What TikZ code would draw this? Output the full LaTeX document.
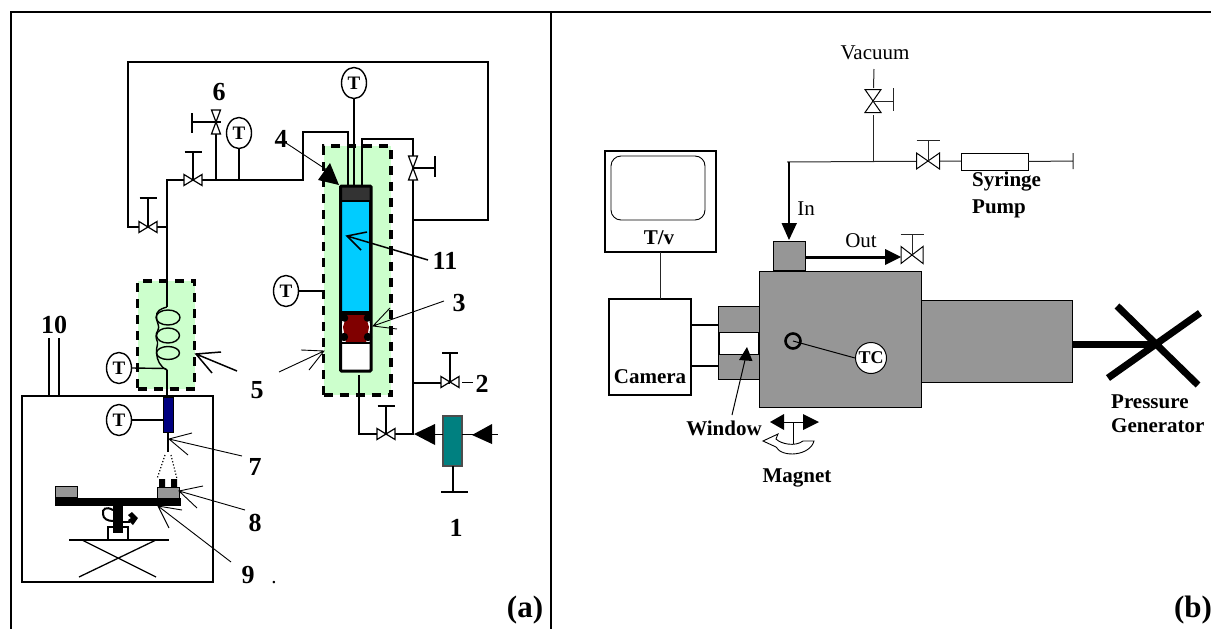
\documentclass[tikz,border=0pt]{standalone}
\usepackage{fontspec}
\setmainfont{Liberation Serif}
\usetikzlibrary{shapes.geometric}
\definecolor{greenbox}{HTML}{CCFFCC}
\definecolor{skyfill}{HTML}{00CCFF}
\definecolor{redfill}{HTML}{800000}
\definecolor{capfill}{HTML}{333333}
\definecolor{grayfill}{HTML}{969696}
\definecolor{tealfill}{HTML}{008080}
\definecolor{navyfill}{HTML}{000080}
\tikzset{
  pipe/.style={line width=1.4pt,black},
  thinpipe/.style={line width=1pt,black!85},
  valveshape/.style={fill=white,draw=black,line join=miter},
  leader/.style={line width=0.9pt,black},
  dashbox/.style={fill=greenbox,draw=black,line width=3.2pt,dash pattern=on 9pt off 7pt},
  num/.style={font=\fontsize{26}{26}\selectfont\bfseries,inner sep=0pt},
  blab/.style={font=\fontsize{21}{21}\selectfont\bfseries,inner sep=0pt},
  rlab/.style={font=\fontsize{21}{21}\selectfont,inner sep=0pt},
  panel/.style={font=\fontsize{31}{31}\selectfont\bfseries,inner sep=0pt},
  tgauge/.style={ellipse,draw=black,line width=1.4pt,fill=white,inner sep=0pt,minimum width=25pt,minimum height=31pt,font=\fontsize{19}{19}\selectfont\bfseries},
  graybox/.style={fill=grayfill,draw=black,line width=1pt},
}
% box node from corners
\newcommand{\boxn}[6]{\node[inner sep=0pt,outer sep=0pt,minimum width={(#4-#2)*1pt},minimum height={(#5-#3)*1pt},#6] (#1) at ({(#2+#4)/2},{(#3+#5)/2}) {};}
% horizontal valve: name x y hw hh stemend barhalf style
\newcommand{\bowH}[8]{\coordinate (#1) at (#2,#3);
  \draw[#8] ({#2},{#3}) -- ({#2},{#6}) ({#2-#7},{#6}) -- ({#2+#7},{#6});
  \path[#8,valveshape] ({#2-#4},{#3-#5}) -- ({#2+#4},{#3+#5}) -- ({#2+#4},{#3-#5}) -- ({#2-#4},{#3+#5}) -- cycle;
  \draw[#8] ({#2},{#3}) -- ({#2},{#3-#5});}
% vertical valve: name x y hw hh stemend barlo barhi style
\newcommand{\bowV}[9]{\coordinate (#1) at (#2,#3);
  \draw[#9] ({#2},{#3}) -- ({#6},{#3}) ({#6},{#7}) -- ({#6},{#8});
  \path[#9,valveshape] ({#2-#4},{#3-#5}) -- ({#2+#4},{#3-#5}) -- ({#2-#4},{#3+#5}) -- ({#2+#4},{#3+#5}) -- cycle;
  \draw[#9] ({#2},{#3}) -- ({#2+#4},{#3});}
% open-headed pointer: name start tip barb1 barb2 style
\newcommand{\pointer}[6]{\coordinate (#1s) at (#2); \coordinate (#1t) at (#3);
  \draw[#6] (#1s) -- (#1t) (#4) -- (#1t) -- (#5);}
\begin{document}
\begin{tikzpicture}[x=1pt,y=-1pt]
\useasboundingbox (0,0) rectangle (1211,629);
% frame
\coordinate (fa) at (11,629); \coordinate (fb) at (11,12); \coordinate (fc) at (1211,12);
\coordinate (fd) at (551,12); \coordinate (fe) at (551,629);
\draw[line width=1.7pt,line join=miter] (fa) -- (fb) -- (fc) (fd) -- (fe);
\node[panel] (pa) at (525,610) {(a)};
\node[panel] (pb) at (1193,610) {(b)};

% ===== panel a =====
\boxn{coilbox}{137.5}{281}{194.5}{389}{dashbox}
\boxn{cellbox}{323.5}{146}{391}{395}{dashbox}
% chamber
\boxn{chamber}{22}{396}{213}{582}{draw=black,line width=1.4pt,fill=white}
\coordinate (ca) at (49,338); \coordinate (cb) at (59,338);
\draw[pipe] (ca) -- (ca |- chamber.north) (cb) -- (cb |- chamber.north);
% pipes
\coordinate (j1) at (128,62); \coordinate (j2) at (488,62); \coordinate (j3) at (488,220); \coordinate (j4) at (413,220);
\coordinate (j5) at (128,227); \coordinate (j6) at (167,227);
\coordinate (j7) at (167,180); \coordinate (j8) at (303,180); \coordinate (j9) at (303,132); \coordinate (j10) at (348,132);
\coordinate (j11) at (348,186); \coordinate (j12) at (362,186); \coordinate (j13) at (362,139); \coordinate (j14) at (413,139);
\coordinate (j15) at (413,434); \coordinate (j16) at (359,375); \coordinate (j17) at (359,434);
\coordinate (j18) at (167,307); \coordinate (j19) at (216,180); \coordinate (j20) at (216,122); \coordinate (j21) at (167,370); \coordinate (j22) at (167,397);
\draw[pipe,line join=miter] (j6) -- (j5) -- (j1) -- (j2) -- (j3) -- (j4);
\draw[pipe,line join=miter] (j18) -- (j7) -- (j8) -- (j9) -- (j10) -- (j11);
\draw[pipe,line join=miter] (j12) -- (j13) -- (j14) -- (j15) -- (j17) -- (j16);
\draw[pipe] (j19) -- (j20);
\draw[pipe] (j21) -- (j22);
\draw[pipe] (413,383) -- (450,383);
% valves
\bowH{v1}{148}{227}{9}{5.5}{198}{8.5}{pipe,line width=1.2pt}
\bowH{v2}{193}{180}{9}{5.5}{152}{8.5}{pipe,line width=1.2pt}
\bowV{v6}{216}{122}{4.5}{12}{192}{113}{133}{pipe,line width=1.2pt}
\bowV{v4}{413}{168}{4.5}{12}{435}{156}{177}{pipe,line width=1.2pt}
\bowH{v5}{386}{434}{9}{5.5}{406}{8.5}{pipe,line width=1.2pt}
\bowH{vb}{450}{382}{9}{5.5}{353}{8}{pipe,line width=1.2pt}
% gauges
\node[tgauge] (t6) at (239,133) {T};
\draw[pipe] (t6.south) -- (t6.south |- j19);
\node[tgauge] (ttop) at (354,83) {T};
\coordinate (captop) at (354,186);
\draw[pipe] (ttop.south) -- (captop);
\node[tgauge] (tcell) at (286,291) {T};
\draw[pipe] (tcell.east) -- (tcell.east -| cellbox.west);
\node[tgauge] (tcoil) at (119,368) {T};
\draw[pipe] (tcoil.east) -- (165,368.5) -- (j21);
\node[tgauge] (tnoz) at (119,420) {T};
% coil
\draw[line width=1.4pt] (168,317.5) ellipse [x radius=12,y radius=7.5];
\draw[line width=1.4pt] (168,335.5) ellipse [x radius=11.5,y radius=7.5];
\draw[line width=1.4pt] (168,353) ellipse [x radius=11.5,y radius=6.5];
\draw[line width=1.4pt] (167,307) .. controls (160,309) and (156,311) .. (156.5,317) .. controls (157,324) and (160,326) .. (158,330) .. controls (155,335) and (156,338) .. (157.5,342) .. controls (158,345) and (156,348) .. (156.5,353) .. controls (157,360) and (160,367) .. (167,370);
% cylinder
\boxn{cyl}{340.5}{186}{371}{371}{fill=white}
\boxn{cap}{340.5}{186}{371}{201}{fill=capfill}
\boxn{fluid}{341.5}{201}{370}{312}{fill=skyfill,draw=black,line width=1.2pt}
\fill[redfill] (347,314) -- (365,314) -- (369,327) -- (366,343) -- (346,343) -- (343,327) -- cycle;
\fill[black] (341,312) rectangle (371,315);
\fill[black] (344.5,318) circle (3.8) (367.5,318) circle (3.8) (344,337) circle (4.2) (368,337) circle (4.2);
\draw[black,line width=1.3pt] (341,343) -- (371,343);
\draw[line width=3pt,rounded corners=1pt] (cyl.north west) -- (cyl.south west) -- (cyl.south east) -- (cyl.north east) -- cycle;
\draw[white,line width=1pt] (342.5,323) -- (342.5,331) (369.5,323) -- (369.5,331);
% pump
\boxn{pump}{443}{416}{462}{466}{fill=tealfill,draw=black!70,line width=1.2pt}
\coordinate (pbase) at (453,492);
\draw[pipe] (pump.south -| pbase) -- (pbase) (441,492) -- (468,492);
\draw[pipe] (435,434.5) -- (443,434.5) (462,434.5) -- (498,434.5);
\fill (414,434) -- (435,424) -- (435,445) -- cycle;
\fill (472,435) -- (492,424) -- (492,444) -- cycle;
\draw[line width=1.4pt] (462,382.5) -- (473,382.5);
% nozzle
\boxn{noz}{163}{397}{173}{432}{fill=navyfill,draw=black,line width=1pt}
\draw[pipe] (tnoz.east) -- (tnoz.east -| noz.west);
\coordinate (nz) at (168,452);
\draw[pipe] (noz.south) -- (nz);
\draw[line width=1.2pt,dotted] (165,455) -- (157,479) (171,455) -- (177,479);
% stage
\fill (159,479) rectangle (165,487) (171,479) rectangle (177,487);
\boxn{leftblock}{55}{486}{77}{497}{graybox}
\boxn{rightblock}{157}{487}{179}{498}{graybox}
\boxn{bar}{55}{498}{181}{506}{fill=black}
\boxn{base}{108}{527}{128}{540}{draw=black,line width=1.2pt,fill=white}
\boxn{stem}{113}{506}{123}{533}{fill=black}
\draw[line width=2pt] (113,510) .. controls (106,506) and (102,509) .. (103,514) .. controls (103,519) and (108,521) .. (113,521);
\draw[line width=2pt] (123,522) -- (130,522);
\fill (132,512) -- (138,518) -- (133,525) -- (128,520) -- (131,518) -- (128,515) -- cycle;
\coordinate (ll) at (69,540); \coordinate (lr) at (169,540);
\draw[pipe] (ll) -- (lr);
\draw[line width=1.3pt] (82,540) -- (156,577) (156,540) -- (79,577);
% numbers & pointers
\node[num] (n6) at (219,92) {6};
\node[num] (n4) at (281,139) {4};
\node[num] (n11) at (445,261) {11};
\node[num] (n3) at (459,303) {3};
\node[num] (n10) at (54,325) {10};
\node[num] (n5) at (257,390) {5};
\node[num] (n2) at (482,384) {2};
\node[num] (n1) at (456,528) {1};
\node[num] (n7) at (255,467) {7};
\node[num] (n8) at (255,523) {8};
\node[num] (n9) at (248,575) {9};
\node[font=\fontsize{21}{21}\selectfont,inner sep=0pt] (dotn) at (274,583) {.};
\coordinate (a4s) at (286,143); \coordinate (a4t) at (330,172);
\draw[leader] (a4s) -- (a4t);
\fill (330,163) -- (318,180) -- (339,185) -- cycle;
\pointer{p11}{428,260}{347,236}{367,232}{361,250}{line width=1.5pt}
\pointer{p3}{444,301}{373,326}{390,308}{397,329}{leader}
\pointer{p5a}{237,371}{196,354}{221,352}{212,373}{line width=1.5pt}
\pointer{p5b}{279,372}{324,351}{301,350}{309,370}{leader}
\pointer{p7}{242,456}{169,439}{192,433}{188,455}{leader}
\pointer{p8}{245,510}{179,491}{203,486}{197,508}{leader}
\pointer{p9}{231,562}{158,506}{182,510}{169,528}{leader}

% ===== panel b =====
\node[rlab] (vac) at (875,53) {Vacuum};
\coordinate (q1) at (874,69); \coordinate (q2) at (873.5,88);
\draw[thinpipe] (q1) -- (q2);
\bowV{qv}{873}{101}{8}{11.5}{893}{88}{111}{thinpipe}
\coordinate (q3) at (873,115); \coordinate (q4) at (873,162); \coordinate (q5) at (787,162); \coordinate (q6) at (789,162);
\draw[thinpipe] (q3) -- (q4);
\coordinate (q7) at (961,161);
\draw[thinpipe] (q5) -- (q7);
\bowH{qs}{928}{161}{11.5}{8}{140}{11.5}{thinpipe}
\boxn{syr}{961}{153}{1028}{170}{draw=black,line width=1pt,fill=white}
\coordinate (q8) at (1073,161);
\draw[thinpipe] (syr.east) -- (q8) (1073,153) -- (1073,169);
\node[blab,anchor=west] (syr1) at (972,182) {Syringe};
\node[blab,anchor=west] (syr2) at (972,209) {Pump};
% TV
\boxn{tv}{605}{151}{716}{252}{draw=black,line width=1.7pt,fill=white}
\draw[line width=0.9pt,rounded corners=10pt] (611,156) rectangle (705,220);
\node[blab] (tvl) at (659,238) {T/v};
% camera
\boxn{cam}{609}{299}{691}{395}{draw=black,line width=1.7pt,fill=white}
\node[blab] (caml) at (650,377) {Camera};
\draw[thinpipe] (tv.south) -- (tv.south |- cam.north);
% gray bodies
\boxn{right}{921}{300}{1072}{382}{graybox}
\boxn{adapter}{718}{306}{759}{379}{graybox}
\boxn{win}{719}{332}{758}{354}{draw=black,line width=1pt,fill=white}
\boxn{main}{759}{271}{921}{407}{graybox}
\boxn{port}{773}{241}{805}{270}{graybox}
\coordinate (ca1) at (718,325); \coordinate (ca2) at (718,366);
\draw[line width=2pt] (cam.east |- ca1) -- (ca1) (cam.east |- ca2) -- (ca2);
% in
\coordinate (in1) at (789,223);
\draw[line width=1.5pt] (q6) -- (in1);
\fill (781.5,223) -- (797,223) -- (789,240) -- cycle;
\node[rlab] (inl) at (806,209) {In};
% out
\coordinate (out1) at (886,257);
\draw[line width=3pt] (806,257) -- (out1);
\fill (885,249) -- (901,257) -- (885,265) -- cycle;
\bowH{qo}{912}{255}{11}{8.5}{234}{11.5}{thinpipe}
\node[rlab] (outl) at (861,241) {Out};
% tc
\coordinate (ring) at (793,341);
\node[circle,draw=black,line width=1pt,fill=white,inner sep=0pt,minimum size=31pt,font=\fontsize{18}{18}\selectfont\bfseries] (tc) at (871,358) {TC};
\draw[line width=1pt] (ring) -- (tc.west);
\draw[line width=2.6pt] (ring) circle (7.5);
% window arrow
\coordinate (w1) at (732,415); \coordinate (w2) at (745,360);
\draw[line width=1pt] (w1) -- (w2);
\fill (747,347) -- (752.5,361) -- (739,360) -- cycle;
\node[blab] (winl) at (724,428) {Window};
% magnet
\fill (770,422) -- (784,414) -- (784,430) -- cycle;
\fill (819,422) -- (803,414) -- (803,430) -- cycle;
\draw[line width=1pt] (784,422) -- (803,422) (793,422) -- (793,443);
\draw[line width=0.9pt,fill=white] (763,441) -- (778,434) -- (776,439) .. controls (781,444) and (795,447) .. (803,441) -- (814,441) .. controls (810,456) and (782,458) .. (776,447) -- cycle;
\draw[line width=1pt] (793,436) -- (793,444);
\node[blab] (magl) at (797,478) {Magnet};
% pressure generator
\coordinate (px) at (1155,344);
\draw[line width=7pt] (right.east |- px) -- (px);
\draw[line width=7pt] (1117,306) -- (1198,385) (1108,378) -- (1200,313);
\node[blab,anchor=west] (pr1) at (1111,402) {Pressure};
\node[blab,anchor=west] (pr2) at (1111,426) {Generator};
\end{tikzpicture}
\end{document}
